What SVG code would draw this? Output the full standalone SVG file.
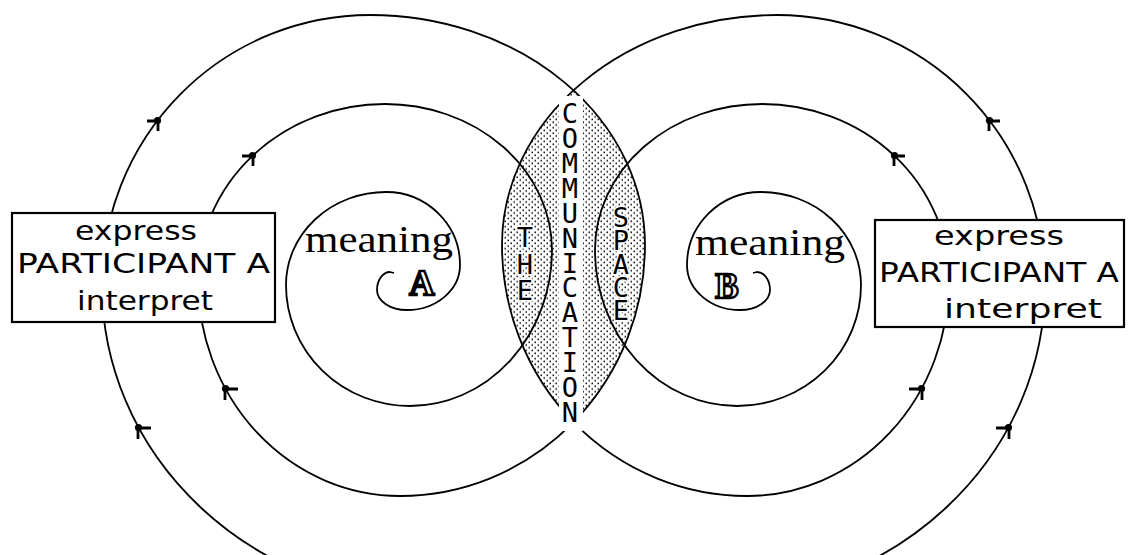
<svg xmlns="http://www.w3.org/2000/svg" width="1131" height="555" viewBox="0 0 1131 555">
<defs>
<style>
.sp{fill:none;stroke:#000;stroke-width:1.8;stroke-linejoin:round}
.box{fill:#fff;stroke:#000;stroke-width:2.2}
.bt{font-family:"DejaVu Sans",sans-serif;font-size:27px;fill:#000}
.mn{font-family:"Liberation Serif",serif;font-size:38px;fill:#000}
.ab{font-family:"Liberation Serif",serif;font-weight:bold;font-size:35px;fill:#fff;stroke:#000;stroke-width:2.4;text-anchor:middle}
.vt{font-family:"DejaVu Sans Mono",monospace;font-size:27px;fill:#000;writing-mode:vertical-rl;text-orientation:upright}
.halo{stroke:#fff;stroke-width:3;paint-order:stroke}
.ah{fill:none;stroke:#000;stroke-width:2.8}
</style>
<pattern id="dots" width="6" height="5.5" patternUnits="userSpaceOnUse">
<rect x="0.5" y="0.5" width="1.5" height="1.5" fill="#000"/>
<rect x="3.5" y="3.25" width="1.5" height="1.5" fill="#000"/>
</pattern>
<path id="spiral" class="sp" d="M440,600 A338,315 0 0 1 102,285 A268,270 0 0 1 370,15 A275,230 0 0 1 645,245 A245,251 0 0 1 400,496 A202,216 0 0 1 198,280 A187,176 0 0 1 385,104 A167,146 0 0 1 552,250 A142,156 0 0 1 410,406 A124,121 0 0 1 286,285 A100,93 0 0 1 386,192 A74,73 0 0 1 460,265 A53,45 0 0 1 407,310 A30,20 0 0 1 377,290 A13,18 0 0 1 390,272 L394,273"/>
<g id="ahA"><path class="ah" d="M0,1 H-11 M0,1 V11"/><circle cx="-0.5" cy="0.5" r="3.6" fill="#000"/></g>
<g id="ahB"><path class="ah" d="M0,2 H13 M0,2 V13"/><circle cx="0.5" cy="1.5" r="3.6" fill="#000"/></g>
</defs>
<rect width="1131" height="555" fill="#fff"/>
<g id="connectors">
  <g id="spiral-a">
    <use href="#spiral"/>
    <use href="#ahA" x="158" y="120"/>
    <use href="#ahA" x="253" y="155"/>
    <use href="#ahB" x="138" y="426"/>
    <use href="#ahB" x="225" y="387"/>
  </g>
  <g id="spiral-b" transform="translate(1147,0) scale(-1,1)">
    <use href="#spiral"/>
    <use href="#ahA" x="158" y="120"/>
    <use href="#ahA" x="253" y="155"/>
    <use href="#ahB" x="138" y="426"/>
    <use href="#ahB" x="225" y="387"/>
  </g>
</g>
<g id="communication-space">
  <path d="M573.5,90.3 A275,230 0 0 1 645,245 A245,251 0 0 1 573.5,422 A245,251 0 0 1 502,245 A275,230 0 0 1 573.5,90.3 Z" fill="url(#dots)"/>
  <rect x="559" y="96" width="24" height="335" fill="#fff"/>
  <text class="vt" x="570" y="98" textLength="330">COMMUNICATION</text>
  <text class="vt halo" x="525" y="222" textLength="84">THE</text>
  <text class="vt halo" x="621" y="202" textLength="124">SPACE</text>
</g>
<g id="meaning-a">
  <text class="mn" x="305" y="252" textLength="148" lengthAdjust="spacingAndGlyphs">meaning</text>
  <text class="ab" x="422" y="295">A</text>
</g>
<g id="meaning-b">
  <text class="mn" x="695" y="255" textLength="150" lengthAdjust="spacingAndGlyphs">meaning</text>
  <text class="ab" x="727" y="298">B</text>
</g>
<g id="participant-left">
  <rect class="box" x="12" y="213" width="263" height="109"/>
  <text class="bt" x="75" y="240" textLength="122" lengthAdjust="spacingAndGlyphs">express</text>
  <text class="bt" x="17" y="273" textLength="253" lengthAdjust="spacingAndGlyphs">PARTICIPANT A</text>
  <text class="bt" x="77" y="310" textLength="136" lengthAdjust="spacingAndGlyphs">interpret</text>
</g>
<g id="participant-right">
  <rect class="box" x="875" y="220" width="249" height="107"/>
  <text class="bt" x="934" y="245" textLength="130" lengthAdjust="spacingAndGlyphs">express</text>
  <text class="bt" x="879" y="282" textLength="240" lengthAdjust="spacingAndGlyphs">PARTICIPANT A</text>
  <text class="bt" x="944" y="318" textLength="158" lengthAdjust="spacingAndGlyphs">interpret</text>
</g>
</svg>
